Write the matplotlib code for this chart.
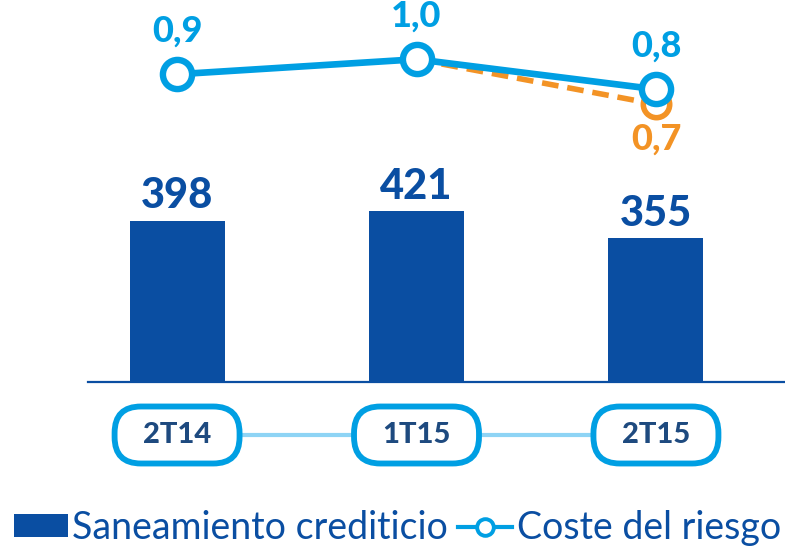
import matplotlib.pyplot as plt
from matplotlib.patches import FancyBboxPatch, Patch
from matplotlib.lines import Line2D

plt.rcParams['font.family'] = ['Lato', 'DejaVu Sans']

# Data
quarters = ['2T14', '1T15', '2T15']
saneamiento = [398, 421, 355]
coste_riesgo = [0.9, 1.0, 0.8]
coste_alt = [None, 1.0, 0.7]   # orange dashed variant (last two quarters)

DARK = '#0A4EA2'
LIGHT = '#009FE3'
ORANGE = '#F39325'
NAVY = '#1E4A7F'

W, H = 785, 547
fig = plt.figure(figsize=(W / 100, H / 100), dpi=100)

# main axes: x from 88px to right edge, baseline at 382px
ax = fig.add_axes([88 / W, (H - 382) / H, 1 - 88 / W, 382 / H])
x = list(range(len(quarters)))
ax.bar(x, saneamiento, width=0.397, color=DARK, zorder=2)
ax.set_xlim(-0.372, 2.539)
ax.set_ylim(0, 943)
ax.axhline(0, color=DARK, lw=1.6, zorder=3, clip_on=False)
ax.axis('off')
for xi, v in zip(x, saneamiento):
    ax.text(xi, v + 14, str(v), ha='center', va='bottom', fontsize=30,
            fontweight='black', color=DARK)

# line on twin axes
ax2 = ax.twinx()
ax2.set_ylim(-1.151, 1.395)
ax2.axis('off')
xa = [xi for xi, v in zip(x, coste_alt) if v is not None]
va = [v for v in coste_alt if v is not None]
ax2.plot(xa, va, color=ORANGE, lw=4, ls=(0, (3, 1.6)), marker='o',
         markersize=19, markerfacecolor='white', markeredgecolor=ORANGE,
         markeredgewidth=4, zorder=2)
ax2.plot(x, coste_riesgo, color=LIGHT, lw=4.8, marker='o', markersize=21,
         markerfacecolor='white', markeredgecolor=LIGHT,
         markeredgewidth=4.6, zorder=3)
for xi, v in zip(x, coste_riesgo):
    ax2.text(xi, v + 0.18, f'{v:.1f}'.replace('.', ','), ha='center',
             va='bottom', fontsize=26, fontweight='black', color=LIGHT)
ax2.text(xa[-1], va[-1] - 0.12, f'{va[-1]:.1f}'.replace('.', ','),
         ha='center', va='top', fontsize=26, fontweight='black', color=ORANGE)

# category pills row, equal px per unit in both directions
unit = 239.5
axc = fig.add_axes([88 / W, (H - 475) / H, 1 - 88 / W, 80 / H])
axc.set_xlim(-0.372, 2.539)
axc.set_ylim(0, 80 / unit)
axc.axis('off')
yc = 40 / unit
axc.plot([x[0], x[-1]], [yc, yc], color='#8ED4F5', lw=3, zorder=1)
pw, ph = 125 / unit, 57 / unit
for xi, q in zip(x, quarters):
    axc.add_patch(FancyBboxPatch((xi - pw / 2, yc - ph / 2), pw, ph,
                                 boxstyle='round,pad=0,rounding_size=0.11',
                                 facecolor='white', edgecolor=LIGHT,
                                 lw=4.2, zorder=2))
    axc.text(xi, yc, q, ha='center', va='center', fontsize=21,
             fontweight='black', color=NAVY, zorder=3)

# legend
handles = [Patch(facecolor=DARK, edgecolor='none'),
           Line2D([], [], color=LIGHT, lw=3, marker='o', markersize=12,
                  markerfacecolor='white', markeredgecolor=LIGHT,
                  markeredgewidth=2.8)]
fig.legend(handles, ['Saneamiento crediticio', 'Coste del riesgo'],
           loc='center', bbox_to_anchor=(0.506, 0.035), ncol=2,
           frameon=False, fontsize=27, labelcolor=DARK,
           handlelength=1.45, handleheight=0.55, handletextpad=0.12,
           columnspacing=0.25, borderaxespad=0, borderpad=0)

fig.savefig('out.png', dpi=100)
